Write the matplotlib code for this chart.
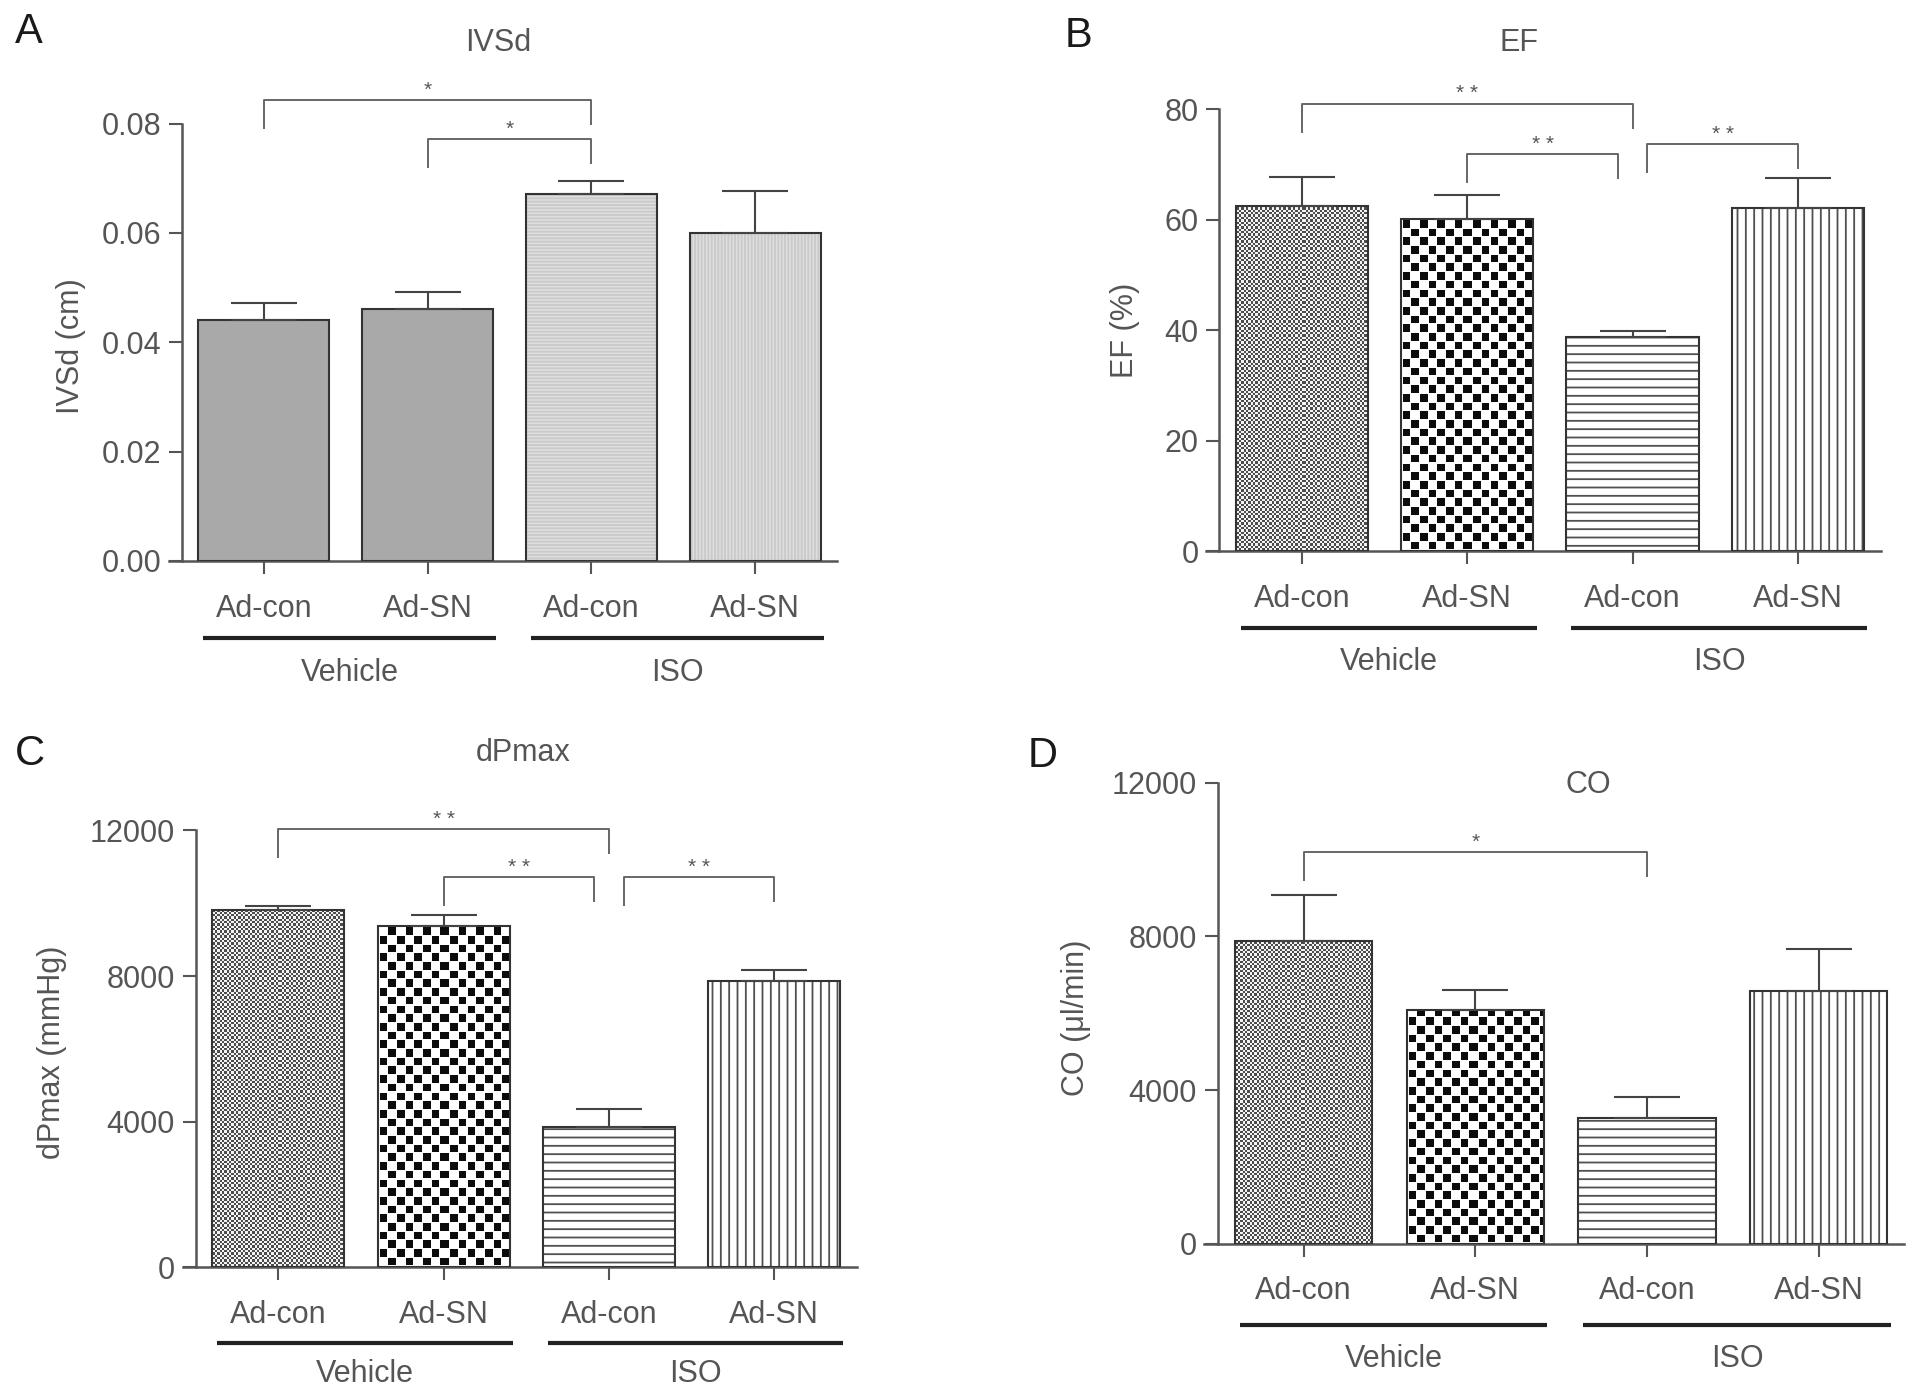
import numpy as np
import matplotlib
matplotlib.use('Agg')
import matplotlib.pyplot as plt

plt.rcParams['font.family'] = ['Liberation Sans', 'DejaVu Sans']
plt.rcParams['hatch.linewidth'] = 1.3

# ---- data ----
categories = ['Ad-con', 'Ad-SN', 'Ad-con', 'Ad-SN']
groups = ['Vehicle', 'ISO']

ivsd_mean = [0.0440, 0.0460, 0.0671, 0.0600]
ivsd_sem = [0.0032, 0.0032, 0.0023, 0.0077]
ivsd_ticks = [0.00, 0.02, 0.04, 0.06, 0.08]
ivsd_sig = [(0, 2, 0.0843, '*'), (1, 2, 0.0771, '*')]

ef_mean = [62.5, 60.2, 38.8, 62.1]
ef_sem = [5.3, 4.2, 1.1, 5.4]
ef_ticks = [0, 20, 40, 60, 80]
ef_sig = [(0, 2, 81.0, '**'), (1, 2, 71.9, '**'), (2, 3, 73.6, '**')]

dp_mean = [9825, 9386, 3850, 7870]
dp_sem = [100, 280, 490, 295]
dp_ticks = [0, 4000, 8000, 12000]
dp_sig = [(0, 2, 12040, '**'), (1, 2, 10720, '**'), (2, 3, 10720, '**')]

co_mean = [7890, 6081, 3267, 6591]
co_sem = [1190, 535, 545, 1090]
co_ticks = [0, 4000, 8000, 12000]
co_sig = [(0, 2, 10190, '*')]

W, H = 1913, 1394
TXT = '#555555'
EDGE = '#333333'

fig = plt.figure(figsize=(W / 100, H / 100), dpi=100)


def make_axes(x0, sp, y0, ppu, ytop):
    # x0: pixel of first bar centre, sp: pixels per bar, y0: pixel of zero, ppu: pixels per unit
    rect = [(x0 - 0.58 * sp) / W, 1 - y0 / H, 4.08 * sp / W, ytop * ppu / H]
    ax = fig.add_axes(rect)
    ax.set_xlim(-0.58, 3.5)
    ax.set_ylim(0, ytop)
    return ax


def texture(ax, patch, kind):
    x, y = patch.get_x(), patch.get_y()
    w, h = patch.get_width(), patch.get_height()
    p0 = ax.transData.transform((x, y))
    p1 = ax.transData.transform((x + w, y + h))
    nw, nh = int(round(p1[0] - p0[0])), int(round(p1[1] - p0[1]))
    jj, ii = np.meshgrid(np.arange(nw), np.arange(nh))
    if kind == 'fine':
        mask = ((jj / 2.35).astype(int) + (ii / 2.35).astype(int)) % 2 == 1
        dark, light = np.array([0.30, 0.30, 0.30]), np.array([0.96, 0.96, 0.96])
    else:
        cj, ci = (jj / 8.7).astype(int), (ii / 8.7).astype(int)
        inj, ini = jj - cj * 8.7, ii - ci * 8.7
        mask = ((cj + ci) % 2 == 1) & (inj > 1.0) & (ini > 1.0)
        dark, light = np.array([0.05, 0.05, 0.05]), np.array([1.0, 1.0, 1.0])
    img = np.where(mask[..., None], dark, light)
    im = ax.imshow(img, extent=(x, x + w, y, y + h), origin='lower', aspect='auto',
                   interpolation='nearest', zorder=1)
    im.set_clip_path(patch)


def draw_panel(ax, means, sems, styles, ticks, fmt, sig, ppu, line_off, label_off):
    xlim, ylim = ax.get_xlim(), ax.get_ylim()
    x = np.arange(len(means))
    bars = ax.bar(x, means, width=0.8, facecolor='none', edgecolor=EDGE, linewidth=1.5, zorder=3)
    for k, st in enumerate(styles):
        if st == 'gray':
            bars[k].set_facecolor('#a9a9a9')
        elif st in ('light_h', 'light_v'):
            ax.bar(x[k], means[k], width=0.8, facecolor='#dedede', edgecolor='#cacaca',
                   hatch='-----' if st == 'light_h' else '|||||', linewidth=0, zorder=2)
        elif st in ('hlines', 'vlines'):
            ax.bar(x[k], means[k], width=0.8, facecolor='white', edgecolor='#505050',
                   hatch='--' if st == 'hlines' else '||', linewidth=0, zorder=2)
        else:
            texture(ax, bars[k], st)
    ax.errorbar(x, means, yerr=[np.zeros(len(sems)), sems], fmt='none', ecolor='#444444',
                elinewidth=1.5, capsize=23.5, capthick=1.5, zorder=4)
    ax.set_xlim(xlim)
    ax.set_ylim(ylim)

    # axes styling
    for s in ['top', 'right']:
        ax.spines[s].set_visible(False)
    ax.spines['left'].set_position(('data', -0.5))
    ax.spines['left'].set_bounds(ticks[0], ticks[-1])
    for s in ['left', 'bottom']:
        ax.spines[s].set_color(TXT)
        ax.spines[s].set_linewidth(1.8)
    ax.set_yticks(ticks)
    ax.set_yticklabels([fmt.format(t) for t in ticks])
    ax.set_xticks(x)
    ax.set_xticklabels(categories)
    ax.tick_params(axis='both', direction='out', length=9.5, width=1.5, color=TXT,
                   labelcolor=TXT, labelsize=22)
    ax.tick_params(axis='y', pad=5.5)
    ax.tick_params(axis='x', pad=14)

    # significance brackets
    adjacent = [(i, j) for i, j, _, _ in sig if j - i == 1]
    for i, j, h, lab in sig:
        xl, xr = float(i), float(j)
        if j - i == 1 and any(b[1] == i for b in adjacent):
            xl += 0.09
        if j - i == 1 and any(b[0] == j for b in adjacent):
            xr -= 0.09
        ax.plot([xl, xl, xr, xr], [h - 28 / ppu, h, h, h - 24 / ppu], color='#666666',
                lw=1.4, clip_on=False, zorder=5)
        ax.annotate(lab.replace('**', '* *'), xy=((xl + xr) / 2, h), xytext=(0, 3),
                    textcoords='offset points', ha='center', va='baseline',
                    fontsize=15, color=TXT)

    # group bars under the categories
    ah = ylim[1] * ppu
    tr = ax.get_xaxis_transform()
    for (a, b), g in zip([(-0.37, 1.42), (1.63, 3.42)], groups):
        ax.plot([a, b], [-line_off / ah] * 2, transform=tr, clip_on=False,
                color='#222222', lw=3, solid_capstyle='butt')
        ax.text((a + b) / 2, -label_off / ah, g, transform=tr, ha='center', va='center',
                fontsize=22, color=TXT)


def ftext(x, y, s, **kw):
    fig.text(x / W, 1 - y / H, s, ha='center', va='center', **kw)


# Panel A
axA = make_axes(263.8, 163.8, 561.0, 437.5 / 0.08, 0.09)
draw_panel(axA, ivsd_mean, ivsd_sem, ['gray', 'gray', 'light_h', 'light_v'],
           ivsd_ticks, '{:.2f}', ivsd_sig, 437.5 / 0.08, 77, 112)
# Panel B
axB = make_axes(1302.0, 165.3, 551.4, 442.3 / 80, 90)
draw_panel(axB, ef_mean, ef_sem, ['fine', 'checker', 'hlines', 'vlines'],
           ef_ticks, '{:.0f}', ef_sig, 442.3 / 80, 77, 111)
# Panel C
axC = make_axes(278.4, 165.2, 1267.4, 437.0 / 12000, 13000)
draw_panel(axC, dp_mean, dp_sem, ['fine', 'checker', 'hlines', 'vlines'],
           dp_ticks, '{:.0f}', dp_sig, 437.0 / 12000, 76, 107)
# Panel D
axD = make_axes(1303.7, 171.6, 1243.8, 461.0 / 12000, 12000)
draw_panel(axD, co_mean, co_sem, ['fine', 'checker', 'hlines', 'vlines'],
           co_ticks, '{:.0f}', co_sig, 461.0 / 12000, 81, 115)

# titles, panel letters, y labels
ftext(498, 43, 'IVSd', fontsize=22, color=TXT)
ftext(1519, 43, 'EF', fontsize=22, color=TXT)
ftext(523, 753, 'dPmax', fontsize=22, color=TXT)
ftext(1588, 785, 'CO', fontsize=22, color=TXT)

ftext(29, 32, 'A', fontsize=30, color='#1a1a1a')
ftext(1079, 36, 'B', fontsize=30, color='#1a1a1a')
ftext(30, 754, 'C', fontsize=30, color='#1a1a1a')
ftext(1043, 756, 'D', fontsize=30, color='#1a1a1a')

ftext(71, 346, 'IVSd (cm)', fontsize=22, color=TXT, rotation=90)
ftext(1125, 330, 'EF (%)', fontsize=22, color=TXT, rotation=90)
ftext(52, 1052, 'dPmax (mmHg)', fontsize=22, color=TXT, rotation=90)
ftext(1076, 1018, 'CO (μl/min)', fontsize=22, color=TXT, rotation=90)

fig.savefig('out.png', dpi=100, facecolor='white')
